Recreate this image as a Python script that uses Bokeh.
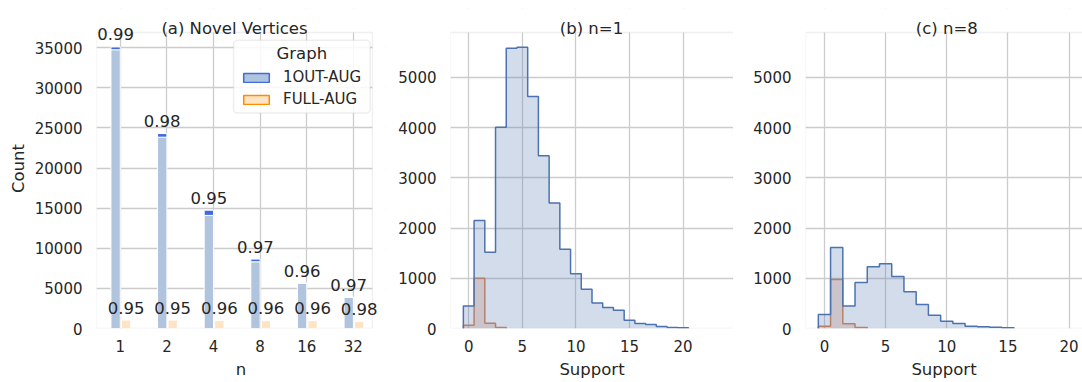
import numpy as np
from bokeh.plotting import figure
from bokeh.layouts import row
from bokeh.models import Legend, LegendItem, BoxAnnotation, Label
from bokeh.embed import file_html
from bokeh.resources import INLINE

# ---------------- data ----------------
n_labels = ["1", "2", "4", "8", "16", "32"]
oneout_total = [35100, 24300, 14750, 8650, 5650, 3900]
oneout_novel = [34750, 23850, 14100, 8320, 5650, 3900]
oneout_ratio = [0.99, 0.98, 0.95, 0.97, 0.96, 0.97]
full_total = [1050, 1050, 980, 980, 980, 900]
full_ratio = [0.95, 0.95, 0.96, 0.96, 0.96, 0.98]

# histograms: counts per integer support value starting at 0
support_n1_1out = [450, 2150, 1520, 4010, 5580, 5600, 4620, 3440, 2500, 1580,
                   1090, 780, 510, 420, 365, 165, 100, 80, 40, 20, 13]
support_n1_full = [65, 1000, 105, 20]
support_n8_1out = [280, 1615, 450, 915, 1230, 1290, 1035, 730, 480, 265,
                   145, 100, 45, 33, 27, 13]
support_n8_full = [45, 975, 95, 20]

titles = ["(a) Novel Vertices", "(b) n=1", "(c) n=8"]
hist_ticks_x = [0, 5, 10, 15, 20]
hist_ticks_y = [0, 1000, 2000, 3000, 4000, 5000]
count_ticks = [0, 5000, 10000, 15000, 20000, 25000, 30000, 35000]

# ---------------- style ----------------
FONT = "DejaVu Sans"
TXT = "#262626"
GRID = "#cccccc"
BLUE = "#4c72b0"
ORANGE = "#dd8452"

# The drawing frame of every panel starts 24 px above the visible axes box so
# that titles and value labels can sit above the box, as in the original.
FRAME_PX = 320      # frame height in px (top border 8, bottom border 54)
BOX_PX = 296        # visible axes box height in px


def style(p):
    p.background_fill_color = "white"
    p.border_fill_color = "white"
    p.outline_line_color = None
    p.title.visible = False
    p.title.standoff = 0
    p.title.text_font_size = "0px"
    try:
        p.title_location = None
    except Exception:
        pass
    for ax in p.axis:
        ax.axis_line_color = None
        ax.major_tick_line_color = None
        ax.minor_tick_line_color = None
        ax.major_tick_out = 0
        ax.major_tick_in = 0
        ax.minor_tick_out = 0
        ax.major_label_text_font = FONT
        ax.major_label_text_font_size = "15px"
        ax.major_label_text_color = TXT
        ax.axis_label_text_font = FONT
        ax.axis_label_text_font_size = "16.5px"
        ax.axis_label_text_font_style = "normal"
        ax.axis_label_text_color = TXT
    p.xaxis.major_label_standoff = 11
    p.yaxis.major_label_standoff = 14
    p.xaxis.axis_label_standoff = 5
    p.yaxis.axis_label_standoff = 4
    p.grid.grid_line_color = GRID
    p.grid.grid_line_width = 1.3
    for g in p.grid:
        g.level = "image"


def axes_box(p, x0, x1, y1, xf0, xf1, yf1, title, title_x, right_edge=True):
    # white covers hide the grid outside the visible box
    p.add_layout(BoxAnnotation(left=xf0, right=xf1, bottom=y1, top=yf1,
                               fill_color="white", fill_alpha=1, line_color=None,
                               level="underlay"))
    if x1 < xf1:
        p.add_layout(BoxAnnotation(left=x1, right=xf1, bottom=0, top=yf1,
                                   fill_color="white", fill_alpha=1,
                                   line_color=None, level="underlay"))
    p.add_layout(BoxAnnotation(left=x0, right=x1 if right_edge else xf1 + 5,
                               bottom=0, top=y1, fill_alpha=0, line_color=GRID,
                               line_width=1.3, level="underlay"))
    per_px = y1 / BOX_PX
    p.add_layout(Label(x=title_x, y=(BOX_PX + 24 - 20.3) * per_px, text=title,
                       text_align="center", text_baseline="alphabetic",
                       text_font=FONT, text_font_size="16.5px", text_color=TXT))


# ---------------- panel (a) ----------------
XA0, XA1, YA1 = -0.51, 5.41, 36900
XF1 = 5.689
YF1 = YA1 * FRAME_PX / BOX_PX
pa = figure(width=395, height=382, x_range=(XA0, XF1), y_range=(0, YF1),
            min_border_left=96, min_border_right=10, min_border_top=8,
            min_border_bottom=54, output_backend="svg", toolbar_location=None)
style(pa)
pa.xaxis.ticker = list(range(len(n_labels)))
pa.xaxis.major_label_overrides = {i: lab for i, lab in enumerate(n_labels)}
pa.yaxis.ticker = count_ticks
pa.xaxis.axis_label = "n"
pa.yaxis.axis_label = "Count"
axes_box(pa, XA0, XA1, YA1, XA0, XF1, YF1, titles[0], (XA0 + XA1) / 2)

idx = np.arange(len(n_labels))
xb = idx - 0.1
xo = idx + 0.125

pa.vbar(x=xb, top=oneout_novel, width=0.2, fill_color="#b0c4de",
        line_color="white", line_width=1)
pa.vbar(x=xb, bottom=oneout_novel, top=oneout_total, width=0.2,
        fill_color="#4169e1", line_color="white", line_width=1)
pa.vbar(x=xo, top=full_total, width=0.2, fill_color="#ffe4c4",
        line_color="white", line_width=1)

for xs_, ys_, rs_ in ((xb, oneout_total, oneout_ratio), (xo, full_total, full_ratio)):
    for xv, yv, rv in zip(xs_, ys_, rs_):
        pa.add_layout(Label(x=float(xv), y=yv, text=f"{rv:.2f}",
                            text_align="center", text_baseline="alphabetic",
                            y_offset=12.5, text_font=FONT, text_font_size="16.5px",
                            text_color=TXT))

# legend
box = BoxAnnotation(left=2.43, right=5.36, bottom=26850, top=35940,
                    fill_color="white", fill_alpha=0.85, line_color="#c8c8c8",
                    line_width=1.5, border_radius=4)
pa.add_layout(box)
pa.add_layout(Label(x=3.894, y=33660, y_offset=4.5, text="Graph",
                    text_align="center", text_baseline="alphabetic",
                    text_font=FONT, text_font_size="16.5px", text_color=TXT))
nan = float("nan")
r1 = pa.quad(left=[nan], right=[nan], top=[nan], bottom=[nan],
             fill_color="#b0c4de", line_color="#4169e1", line_width=1.5)
r2 = pa.quad(left=[nan], right=[nan], top=[nan], bottom=[nan],
             fill_color="#ffe4c4", line_color="#ff8c00", line_width=1.5)
legend = Legend(items=[LegendItem(label="1OUT-AUG", renderers=[r1]),
                       LegendItem(label="FULL-AUG", renderers=[r2])],
                location=(144, 220), border_line_color=None,
                background_fill_alpha=0, padding=0, margin=0, spacing=4,
                glyph_width=32, glyph_height=11, label_height=18,
                label_standoff=11, label_text_font=FONT,
                label_text_font_size="15px", label_text_color=TXT)
pa.add_layout(legend)


# ---------------- histogram panels ----------------
HY1 = 5896
HYF1 = HY1 * FRAME_PX / BOX_PX


def hist_panel(blue_counts, orange_counts, title, title_x, xr, width, left,
               right_edge=True):
    p = figure(width=width, height=382, x_range=xr, y_range=(0, HYF1),
               min_border_left=left, min_border_right=0, min_border_top=8,
               min_border_bottom=54, output_backend="svg",
               toolbar_location=None)
    style(p)
    p.xaxis.ticker = hist_ticks_x
    p.yaxis.ticker = hist_ticks_y
    p.xaxis.axis_label = "Support"
    axes_box(p, xr[0], xr[1], HY1, xr[0], xr[1], HYF1, title, title_x,
             right_edge=right_edge)
    for counts, color in [(orange_counts, ORANGE), (blue_counts, BLUE)]:
        edges = np.arange(len(counts) + 1) - 0.5
        xs = np.repeat(edges, 2)
        ys = np.concatenate([[0], np.repeat(counts, 2), [0]])
        p.patch(xs, ys, fill_color=color, fill_alpha=0.25, line_color=None)
        p.line(xs, ys, line_color=color, line_width=1.5)
    return p


pb = hist_panel(support_n1_1out, support_n1_full, titles[1], 11.45,
                (-1.7, 24.7), 338, 55)
pc = hist_panel(support_n8_1out, support_n8_full, titles[2], 10.0,
                (-1.55, 21.1), 349, 72, right_edge=False)

layout = row(pa, pb, pc)
open("out.html", "w").write(file_html(layout, INLINE))
